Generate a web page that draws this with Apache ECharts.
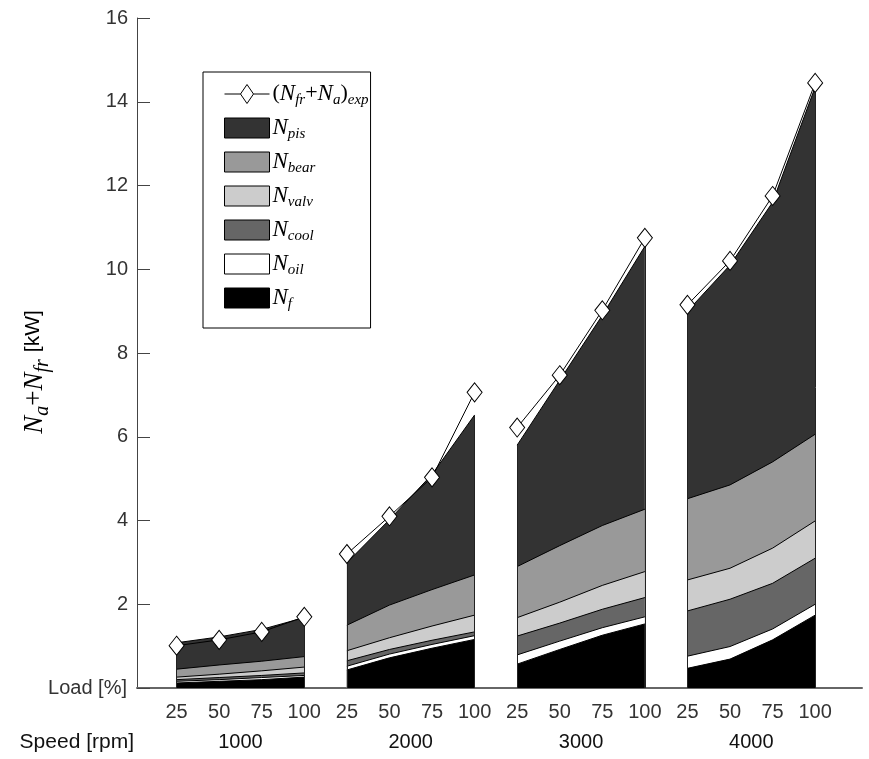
<!DOCTYPE html>
<html><head><meta charset="utf-8">
<script src="https://cdn.jsdelivr.net/npm/echarts@6/dist/echarts.min.js"></script>
<style>html,body{margin:0;padding:0;background:#fff}#c{width:869px;height:759px}</style>
</head><body><div id="c"></div>
<script>
// ---- data ----
const loads  = ['25', '50', '75', '100'];
const speeds = ['1000', '2000', '3000', '4000'];
// component contributions [kW], 4 speeds x 4 loads
const nF    = [0.12,0.16,0.20,0.26, 0.43,0.72,0.95,1.16, 0.57,0.92,1.26,1.53, 0.47,0.69,1.15,1.74];
const nOil  = [0.04,0.04,0.05,0.04, 0.09,0.09,0.09,0.09, 0.22,0.20,0.18,0.17, 0.29,0.30,0.26,0.26];
const nCool = [0.04,0.05,0.05,0.06, 0.13,0.11,0.10,0.09, 0.45,0.43,0.44,0.46, 1.08,1.13,1.09,1.10];
const nValv = [0.06,0.08,0.11,0.14, 0.24,0.28,0.34,0.40, 0.44,0.50,0.57,0.62, 0.74,0.74,0.84,0.89];
const nBear = [0.19,0.22,0.23,0.25, 0.61,0.78,0.87,0.96, 1.22,1.35,1.43,1.49, 1.94,1.99,2.06,2.07];
const nPis  = [0.63,0.67,0.76,0.93, 1.49,2.04,2.75,3.82, 2.90,3.95,5.02,6.28, 4.48,5.25,6.20,8.29];
const nExp  = [1.01,1.15,1.34,1.70, 3.20,4.10,5.03,7.06, 6.22,7.47,9.02,10.75, 9.15,10.20,11.75,14.45];

// ---- styles ----
// bottom -> top stacking order
const layers = [
  {name: 'Nf',    data: nF,    color: '#000000'},
  {name: 'Noil',  data: nOil,  color: '#ffffff'},
  {name: 'Ncool', data: nCool, color: '#666666'},
  {name: 'Nvalv', data: nValv, color: '#cccccc'},
  {name: 'Nbear', data: nBear, color: '#999999'},
  {name: 'Npis',  data: nPis,  color: '#333333'}
];
const legendLabels = {
  exp:   '{p|(}{n|N}{s|fr}{p|+}{n|N}{s|a}{p|)}{s|exp}',
  Npis:  '{n|N}{s|pis}',
  Nbear: '{n|N}{s|bear}',
  Nvalv: '{n|N}{s|valv}',
  Ncool: '{n|N}{s|cool}',
  Noil:  '{n|N}{s|oil}',
  Nf:    '{n|N}{s|f}'
};
const serif = 'Liberation Serif';
const sans = 'Liberation Sans';
const richLegend = {
  n: {fontFamily: serif, fontStyle: 'italic', fontSize: 23, lineHeight: 24, verticalAlign: 'top', color: '#000'},
  s: {fontFamily: serif, fontStyle: 'italic', fontSize: 15, lineHeight: 14, padding: [11, 0, 0, 0], verticalAlign: 'top', color: '#000'},
  p: {fontFamily: serif, fontSize: 22, lineHeight: 24, verticalAlign: 'top', color: '#000'}
};
const richAxis = {
  n: {fontFamily: serif, fontStyle: 'italic', fontSize: 27, lineHeight: 28, verticalAlign: 'top', color: '#000'},
  s: {fontFamily: serif, fontStyle: 'italic', fontSize: 20, lineHeight: 18, padding: [12, 0, 0, 0], verticalAlign: 'top', color: '#000'},
  p: {fontFamily: serif, fontSize: 27, lineHeight: 28, verticalAlign: 'top', color: '#000'},
  k: {fontFamily: sans, fontSize: 21, lineHeight: 28, padding: [2, 0, 0, 7], verticalAlign: 'top', color: '#000'}
};

// cumulative tops (stack built from the component arrays)
const cum = [];
layers.forEach((L, k) => {
  cum.push(L.data.map((v, i) => v + (k > 0 ? cum[k - 1][i] : 0)));
});

const series = [];
const nGroups = speeds.length, nLoads = loads.length;
for (let g = 0; g < nGroups; g++) {
  const first = g * nLoads, last = g * nLoads + nLoads - 1;
  // draw top layer first so lower layers paint over it
  for (let k = layers.length - 1; k >= 0; k--) {
    const L = layers[k];
    series.push({
      name: L.name,
      type: 'line',
      xAxisIndex: 0,
      symbol: 'none',
      showSymbol: false,
      color: L.color,
      itemStyle: {color: L.color},
      lineStyle: {color: '#000', width: 1},
      areaStyle: {color: L.color, opacity: 1, origin: 0},
      emphasis: {disabled: true},
      animation: false,
      z: 2,
      data: loads.map((_, i) => [first + i + 1, cum[k][first + i]])
    });
  }
  // side edges of the stacked block
  series.push({
    name: 'edges', type: 'line', xAxisIndex: 0, data: [], z: 3, silent: true,
    markLine: {
      symbol: 'none', silent: true, animation: false,
      label: {show: false},
      lineStyle: {color: '#222', width: 1, type: 'solid'},
      emphasis: {disabled: true},
      data: [
        [{coord: [first + 1, 0]}, {coord: [first + 1, cum[layers.length - 1][first]]}],
        [{coord: [last + 1, 0]}, {coord: [last + 1, cum[layers.length - 1][last]]}]
      ]
    }
  });
  series.push({
    name: 'exp',
    type: 'line',
    xAxisIndex: 0,
    symbol: 'diamond',
    symbolSize: [15, 19],
    z: 5,
    itemStyle: {color: '#fff', borderColor: '#000', borderWidth: 1},
    lineStyle: {color: '#000', width: 1},
    emphasis: {disabled: true},
    animation: false,
    data: loads.map((_, i) => [first + i + 1, nExp[first + i]])
  });
}

const loadTicks = [], speedTicks = [];
for (let g = 0; g < nGroups; g++) {
  for (let i = 0; i < nLoads; i++) loadTicks.push(g * nLoads + i + 1);
  speedTicks.push(g * nLoads + (nLoads + 1) / 2);
}

const chart = echarts.init(document.getElementById('c'), null, {renderer: 'canvas'});
chart.setOption({
  animation: false,
  backgroundColor: '#fff',
  grid: {left: 137, right: 7, top: 18, bottom: 71, containLabel: false},
  legend: {
    left: 203, top: 72,
    orient: 'vertical',
    backgroundColor: '#fff',
    borderColor: '#000', borderWidth: 1,
    padding: [10, 2, 16, 21],
    itemWidth: 45, itemHeight: 20, itemGap: 8,
    selectedMode: false,
    itemStyle: {borderColor: '#000', borderWidth: 1},
    textStyle: {rich: richLegend, padding: [0, 0, 0, -2]},
    formatter: name => legendLabels[name],
    data: [
      {name: 'exp', icon: 'path://M0,10L16,10M29,10L45,10M22.5,0.5L29,10L22.5,19.5L16,10Z', itemStyle: {color: '#fff', borderColor: '#000', borderWidth: 1}},
      {name: 'Npis', icon: 'rect'},
      {name: 'Nbear', icon: 'rect'},
      {name: 'Nvalv', icon: 'rect'},
      {name: 'Ncool', icon: 'rect'},
      {name: 'Noil', icon: 'rect'},
      {name: 'Nf', icon: 'rect'}
    ]
  },
  xAxis: [{
    type: 'value', min: 0.07, max: 17.1,
    axisLine: {show: true, lineStyle: {color: '#666', width: 2}},
    axisTick: {show: false},
    splitLine: {show: false},
    axisLabel: {
      customValues: loadTicks,
      formatter: v => loads[(Math.round(v) - 1) % nLoads],
      margin: 14, fontSize: 20, color: '#333', fontFamily: sans
    },
    name: 'Load [%]', nameLocation: 'start', nameGap: 10,
    nameTextStyle: {fontSize: 20, color: '#333', fontFamily: sans}
  }, {
    type: 'value', min: 0.07, max: 17.1, position: 'bottom', offset: 54,
    axisLine: {show: false}, axisTick: {show: false}, splitLine: {show: false},
    axisLabel: {
      customValues: speedTicks,
      formatter: v => speeds[Math.floor(v / nLoads)],
      margin: 0, verticalAlign: 'middle', fontSize: 20, color: '#111', fontFamily: sans
    },
    name: 'Speed [rpm]', nameLocation: 'start', nameGap: 3,
    nameTextStyle: {fontSize: 21, color: '#111', fontFamily: sans, verticalAlign: 'middle'}
  }],
  yAxis: {
    type: 'value', min: 0, max: 16, interval: 2,
    axisLine: {show: true, lineStyle: {color: '#444', width: 1}},
    axisTick: {show: true, inside: true, length: 13, lineStyle: {color: '#444'}},
    splitLine: {show: false},
    axisLabel: {formatter: v => (v === 0 ? '' : String(v)), fontSize: 20, color: '#333', fontFamily: sans, margin: 9},
    name: '{n|N}{s|a}{p|+}{n|N}{s|fr}{k|[kW]}',
    nameLocation: 'middle', nameRotate: 90, nameGap: 88,
    nameTextStyle: {rich: richAxis, padding: [0, 38, 0, 0]}
  },
  series: series
});
</script>
</body></html>
